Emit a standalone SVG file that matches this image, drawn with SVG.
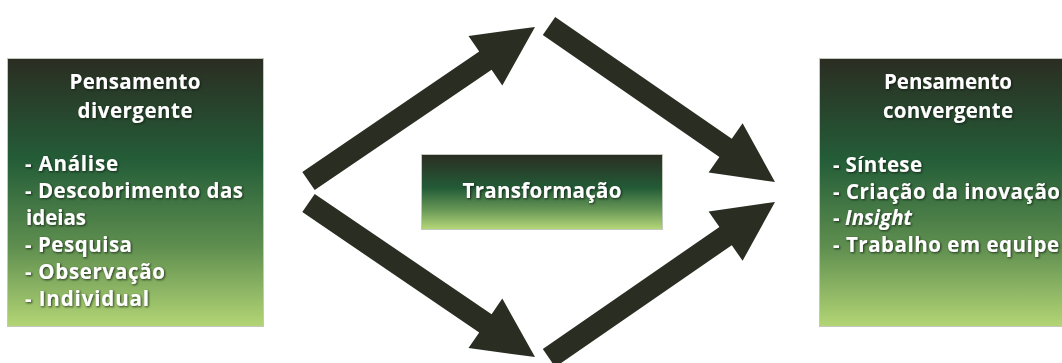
<svg xmlns="http://www.w3.org/2000/svg" width="1062" height="363" viewBox="0 0 1062 363">
  <defs>
    <linearGradient id="boxGrad" x1="0" y1="0" x2="0" y2="1">
      <stop offset="0" stop-color="#2b2d22"/>
      <stop offset="0.38" stop-color="#245d38"/>
      <stop offset="0.7" stop-color="#5e8e4f"/>
      <stop offset="1" stop-color="#b3d575"/>
    </linearGradient>
    <linearGradient id="midGrad" x1="0" y1="0" x2="0" y2="1">
      <stop offset="0" stop-color="#2b2d22"/>
      <stop offset="0.45" stop-color="#235c37"/>
      <stop offset="0.75" stop-color="#6b9a58"/>
      <stop offset="1" stop-color="#b6d879"/>
    </linearGradient>
    <filter id="shadow" x="-10%" y="-30%" width="120%" height="160%">
      <feDropShadow dx="1" dy="1" stdDeviation="0.8" flood-color="#10160c" flood-opacity="0.8"/>
    </filter>
  </defs>
  <style>
    .box { stroke: #c3c8bd; stroke-width: 1; }
    .t { font-family: "Open Sans", "Liberation Sans", sans-serif; font-weight: 700; font-size: 20.5px; fill: #ffffff; filter: url(#shadow); }
    .c { text-anchor: middle; }
    .arrow { fill: #2a2e22; }
  </style>
  <rect width="1062" height="363" fill="#ffffff"/>

  <g id="connectors">
    <polygon class="arrow" points="302.3,171.9 479.2,51.6 468.5,35.9 535,27 502.3,85.5 491.6,69.8 314.7,190.1"/>
    <polygon class="arrow" points="302.3,212.1 479.2,332.4 468.5,348.1 535,357 502.3,298.5 491.6,314.2 314.7,193.9"/>
    <polygon class="arrow" points="555.2,16.9 731.8,138.8 742.6,123.2 775,182 708.6,172.6 719.4,157.0 542.8,35.1"/>
    <polygon class="arrow" points="555.2,367.1 731.8,245.2 742.6,260.8 775,202 708.6,211.4 719.4,227.0 542.8,348.9"/>
  </g>

  <g id="divergente">
    <rect class="box" x="7.5" y="58.5" width="256" height="268" fill="url(#boxGrad)"/>
    <text class="t c" x="135" y="89" textLength="131" lengthAdjust="spacing">Pensamento</text>
    <text class="t c" x="135" y="118" textLength="115" lengthAdjust="spacing">divergente</text>
    <text class="t" x="25" y="171" textLength="93" lengthAdjust="spacing">- Análise</text>
    <text class="t" x="25" y="198" textLength="218" lengthAdjust="spacing">- Descobrimento das</text>
    <text class="t" x="26" y="225" textLength="60" lengthAdjust="spacing">ideias</text>
    <text class="t" x="25" y="252" textLength="107" lengthAdjust="spacing">- Pesquisa</text>
    <text class="t" x="25" y="279" textLength="140" lengthAdjust="spacing">- Observação</text>
    <text class="t" x="25" y="306" textLength="124" lengthAdjust="spacing">- Individual</text>
  </g>

  <g id="transformacao">
    <rect class="box" x="421.5" y="154.5" width="241" height="75" fill="url(#midGrad)"/>
    <text class="t c" x="542" y="198" textLength="159" lengthAdjust="spacing">Transformação</text>
  </g>

  <g id="convergente">
    <rect class="box" x="819.5" y="58.5" width="258" height="268" fill="url(#boxGrad)"/>
    <text class="t c" x="948" y="89" textLength="128" lengthAdjust="spacing">Pensamento</text>
    <text class="t c" x="948" y="118" textLength="130" lengthAdjust="spacing">convergente</text>
    <text class="t" x="833" y="172" textLength="89" lengthAdjust="spacing">- Síntese</text>
    <text class="t" x="833" y="199" textLength="227" lengthAdjust="spacing">- Criação da inovação</text>
    <text class="t" x="833" y="225" textLength="79" lengthAdjust="spacing">- <tspan font-style="italic">Insight</tspan></text>
    <text class="t" x="833" y="252" textLength="226" lengthAdjust="spacing">- Trabalho em equipe</text>
  </g>
</svg>
